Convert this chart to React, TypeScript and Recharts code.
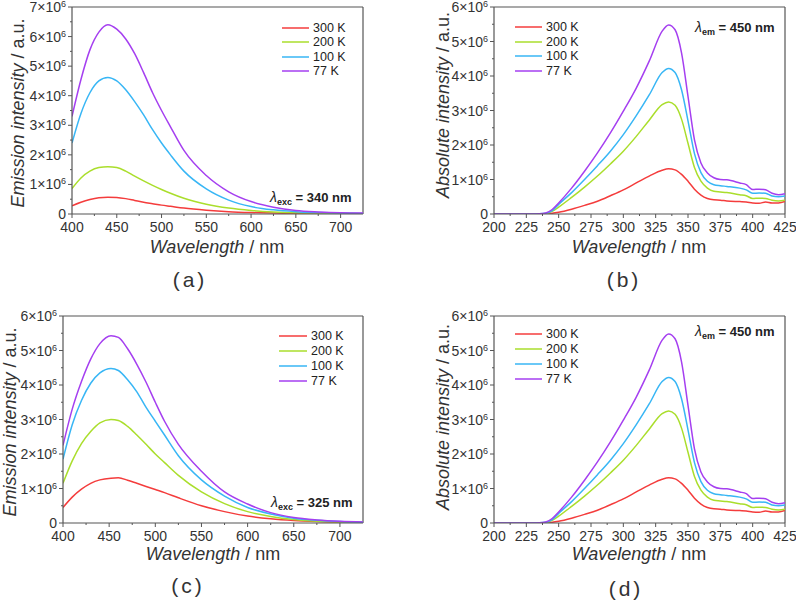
import React from 'react';
import { LineChart, Line, XAxis, YAxis, Legend, ReferenceLine, Customized } from 'recharts';

const FONT = '"Liberation Sans", Arial, Helvetica, sans-serif';
const AXIS = '#555555';
const TEXT = '#333333';

const seriesNames = ['300 K', '200 K', '100 K', '77 K'];
const seriesKeys = ['k300', 'k200', 'k100', 'k77'];
const seriesColors = ['#f43c3c', '#aade2c', '#38b6f5', '#a53ff0'];

// Panel (a): emission, λexc = 340 nm (values in units of 10^6)
const wlA = [400, 410, 420, 430, 440, 450, 460, 470, 480, 490, 500, 510, 525, 550, 575, 600, 625, 650, 675, 700, 725];
const a300 = [0.28, 0.4, 0.49, 0.55, 0.57, 0.56, 0.52, 0.46, 0.4, 0.35, 0.3, 0.26, 0.2, 0.13, 0.08, 0.05, 0.03, 0.02, 0.01, 0.01, 0.01];
const a200 = [0.86, 1.22, 1.45, 1.57, 1.6, 1.57, 1.45, 1.28, 1.12, 0.97, 0.83, 0.7, 0.53, 0.33, 0.2, 0.12, 0.07, 0.04, 0.03, 0.02, 0.01];
const a100 = [2.4, 3.4, 4.1, 4.5, 4.62, 4.5, 4.2, 3.8, 3.35, 2.85, 2.4, 2.0, 1.45, 0.85, 0.47, 0.25, 0.14, 0.08, 0.05, 0.03, 0.02];
const a77 = [3.3, 4.55, 5.55, 6.15, 6.4, 6.25, 5.92, 5.42, 4.78, 4.1, 3.5, 2.95, 2.15, 1.3, 0.75, 0.42, 0.23, 0.12, 0.07, 0.04, 0.03];

// Panel (b) and (d): excitation, λem = 450 nm
const wlB = [200, 210, 220, 230, 235, 240, 245, 250, 260, 270, 280, 290, 300, 310, 320, 330, 335, 340, 345, 350, 355, 360, 365, 370, 375, 380, 390, 395, 400, 405, 410, 415, 420, 425];
const b300 = [0, 0, 0, 0, 0, 0.005, 0.02, 0.05, 0.14, 0.25, 0.37, 0.53, 0.7, 0.9, 1.1, 1.27, 1.31, 1.28, 1.15, 0.95, 0.72, 0.55, 0.45, 0.41, 0.4, 0.38, 0.36, 0.35, 0.32, 0.31, 0.35, 0.32, 0.32, 0.36];
const b200 = [0, 0, 0, 0, 0.003, 0.01, 0.08, 0.2, 0.48, 0.78, 1.1, 1.45, 1.82, 2.25, 2.72, 3.17, 3.25, 3.15, 2.75, 2.05, 1.35, 0.95, 0.75, 0.66, 0.64, 0.62, 0.56, 0.53, 0.45, 0.46, 0.45, 0.4, 0.38, 0.4];
const b100 = [0, 0, 0, 0, 0.004, 0.02, 0.1, 0.28, 0.62, 1.0, 1.4, 1.82, 2.3, 2.85, 3.45, 4.1, 4.22, 4.1, 3.6, 2.7, 1.75, 1.2, 0.95, 0.85, 0.82, 0.8, 0.75, 0.7, 0.6, 0.61, 0.6, 0.52, 0.5, 0.52];
const b77 = [0, 0, 0, 0, 0.005, 0.03, 0.13, 0.32, 0.75, 1.24, 1.77, 2.35, 2.98, 3.65, 4.43, 5.3, 5.48, 5.34, 4.67, 3.41, 2.15, 1.48, 1.19, 1.05, 1.0, 0.99, 0.9, 0.85, 0.71, 0.72, 0.7, 0.6, 0.56, 0.59];

// Panel (c): emission, λexc = 325 nm
const wlC = [400, 410, 420, 430, 440, 452, 460, 470, 480, 490, 500, 510, 525, 550, 575, 600, 625, 650, 675, 700, 725];
const c300 = [0.45, 0.75, 0.98, 1.15, 1.25, 1.3, 1.31, 1.24, 1.15, 1.06, 0.97, 0.88, 0.73, 0.5, 0.33, 0.2, 0.12, 0.07, 0.04, 0.02, 0.01];
const c200 = [1.15, 1.8, 2.3, 2.65, 2.9, 3.0, 2.97, 2.8, 2.55, 2.28, 2.0, 1.75, 1.38, 0.9, 0.56, 0.33, 0.19, 0.1, 0.05, 0.03, 0.02];
const c100 = [1.85, 2.85, 3.55, 4.05, 4.35, 4.48, 4.42, 4.15, 3.8, 3.35, 2.95, 2.55, 1.95, 1.25, 0.78, 0.45, 0.26, 0.14, 0.08, 0.04, 0.02];
const c77 = [2.25, 3.3, 4.1, 4.75, 5.2, 5.43, 5.38, 5.05, 4.6, 4.08, 3.5, 2.95, 2.28, 1.5, 0.9, 0.55, 0.3, 0.16, 0.09, 0.05, 0.03];

// Tick values
const xMajorEm = [400, 450, 500, 550, 600, 650, 700];
const xMinorEm = [425, 475, 525, 575, 625, 675];
const xMajorEx = [200, 225, 250, 275, 300, 325, 350, 375, 400, 425];
const xMinorEx = [212.5, 237.5, 262.5, 287.5, 312.5, 337.5, 362.5, 387.5, 412.5];

const buildRows = (xs: number[], s: number[][]) =>
  xs.map((w, i) => ({ wl: w, k300: s[0][i], k200: s[1][i], k100: s[2][i], k77: s[3][i] }));

const XTick = (props: any) => {
  const { x, y, payload, major } = props;
  const isMajor = major.includes(payload.value);
  return (
    <g>
      <line x1={x} x2={x} y1={y} y2={y + (isMajor ? 4 : 2)} stroke={AXIS} strokeWidth={1} />
      {isMajor && (
        <text x={x} y={y + 18} textAnchor="middle" fill={TEXT} fontSize={14} fontFamily={FONT}>
          {payload.value}
        </text>
      )}
    </g>
  );
};

const YTick = (props: any) => {
  const { x, y, payload } = props;
  const v = payload.value;
  const isMajor = Number.isInteger(v);
  return (
    <g>
      <line x1={x} x2={x - (isMajor ? 4 : 2)} y1={y} y2={y} stroke={AXIS} strokeWidth={1} />
      {isMajor && (
        <text x={x - 6} y={y + 5} textAnchor="end" fill={TEXT} fontSize={14} fontFamily={FONT}>
          {v === 0 ? '0' : (
            <>
              {v}×10<tspan dy={-5} fontSize={9}>6</tspan>
            </>
          )}
        </text>
      )}
    </g>
  );
};

const makeLegend = (rowH: number, lineLen: number) => () => (
  <div style={{ fontFamily: FONT, fontSize: 12.5, color: '#222' }}>
    {seriesNames.map((name, i) => (
      <div key={name} style={{ display: 'flex', alignItems: 'center', height: rowH, whiteSpace: 'nowrap' }}>
        <svg width={lineLen} height={4} style={{ display: 'block', marginRight: 4 }}>
          <line x1={0} x2={lineLen} y1={2} y2={2} stroke={seriesColors[i]} strokeWidth={1.5} />
        </svg>
        <span>{name}</span>
      </div>
    ))}
  </div>
);

const Annotations = (props: any) => {
  const { cfg } = props;
  const L = cfg.left;
  const T = cfg.top;
  return (
    <g fontFamily={FONT}>
      <text
        x={cfg.yTitle[0] - L}
        y={cfg.yTitle[1] - T}
        transform={`rotate(-90, ${cfg.yTitle[0] - L}, ${cfg.yTitle[1] - T})`}
        textAnchor="middle"
        fontSize={18}
        fill={TEXT}
      >
        <tspan fontStyle="italic">{cfg.yTitleItalic}</tspan>
        <tspan> / a.u.</tspan>
      </text>
      <text x={cfg.xTitle[0] - L} y={cfg.xTitle[1] - T} textAnchor="middle" fontSize={18} fill={TEXT}>
        <tspan fontStyle="italic">Wavelength</tspan>
        <tspan> / nm</tspan>
      </text>
      <text x={cfg.lambda[0] - L} y={cfg.lambda[1] - T} fontSize={13} fontWeight="bold" fill="#222">
        <tspan fontStyle="italic" fontWeight="normal" fontSize={14}>λ</tspan>
        <tspan fontSize={9} dy={3}>{cfg.lambdaSub}</tspan>
        <tspan dy={-3}>{` = ${cfg.lambdaVal}`}</tspan>
      </text>
      <text x={cfg.tag[0] - L} y={cfg.tag[1] - T} textAnchor="middle" fontSize={21} fill={TEXT} letterSpacing={3}>
        {cfg.tagText}
      </text>
    </g>
  );
};

const Panel = ({ cfg }: { cfg: any }) => {
  const xTicks = [...cfg.xMajor, ...cfg.xMinor].sort((a: number, b: number) => a - b);
  const yTicks: number[] = [];
  for (let i = 0; i <= cfg.yMax * 2; i++) yTicks.push(i / 2);
  return (
    <div style={{ position: 'absolute', left: cfg.left, top: cfg.top }}>
      <LineChart width={cfg.width} height={cfg.height} data={cfg.rows} margin={cfg.margin}>
        <XAxis
          dataKey="wl"
          type="number"
          domain={cfg.xDomain}
          ticks={xTicks}
          interval={0}
          allowDataOverflow
          height={30}
          tickSize={0}
          tickMargin={0}
          tickLine={false}
          axisLine={{ stroke: AXIS, strokeWidth: 1.2 }}
          tick={<XTick major={cfg.xMajor} />}
        />
        <YAxis
          type="number"
          domain={[0, cfg.yMax]}
          ticks={yTicks}
          interval={0}
          allowDataOverflow
          width={cfg.yAxisWidth}
          tickSize={0}
          tickMargin={0}
          tickLine={false}
          axisLine={{ stroke: AXIS, strokeWidth: 1.2 }}
          tick={<YTick />}
        />
        <ReferenceLine y={cfg.yMax} stroke={AXIS} strokeWidth={1.2} />
        <ReferenceLine x={cfg.xDomain[1]} stroke={AXIS} strokeWidth={1.2} />
        {seriesKeys.map((k, i) => (
          <Line
            key={k}
            dataKey={k}
            name={seriesNames[i]}
            stroke={seriesColors[i]}
            strokeWidth={1.5}
            dot={false}
            type="monotone"
            isAnimationActive={false}
          />
        ))}
        <Legend
          layout="vertical"
          align="center"
          verticalAlign="middle"
          wrapperStyle={{
            left: cfg.legend[0] - cfg.left,
            top: cfg.legend[1] - cfg.top - cfg.legend[2] / 2,
            width: 'auto',
            height: 'auto',
          }}
          content={makeLegend(cfg.legend[2], cfg.legend[3])}
        />
        <Customized component={<Annotations cfg={cfg} />} />
      </LineChart>
    </div>
  );
};

const panels = [
  {
    left: 0, top: 0, width: 398, height: 300,
    margin: { top: 7, right: 35, bottom: 56, left: 0 }, yAxisWidth: 72,
    xDomain: [400, 725], xMajor: xMajorEm, xMinor: xMinorEm, yMax: 7,
    rows: buildRows(wlA, [a300, a200, a100, a77]),
    yTitle: [24, 113], yTitleItalic: 'Emission intensity',
    xTitle: [217, 253], lambda: [270, 202], lambdaSub: 'exc', lambdaVal: '340 nm',
    tag: [190, 287], tagText: '(a)', legend: [282, 28, 14.4, 27],
  },
  {
    left: 398, top: 0, width: 398, height: 300,
    margin: { top: 7, right: 11, bottom: 56, left: 0 }, yAxisWidth: 96,
    xDomain: [200, 425], xMajor: xMajorEx, xMinor: xMinorEx, yMax: 6,
    rows: buildRows(wlB, [b300, b200, b100, b77]),
    yTitle: [449, 105], yTitleItalic: 'Absolute intensity',
    xTitle: [639, 253], lambda: [695, 32], lambdaSub: 'em', lambdaVal: '450 nm',
    tag: [624, 287], tagText: '(b)', legend: [515, 27, 14.6, 27],
  },
  {
    left: 0, top: 300, width: 398, height: 304,
    margin: { top: 16, right: 35, bottom: 51, left: 0 }, yAxisWidth: 63,
    xDomain: [400, 725], xMajor: xMajorEm, xMinor: xMinorEm, yMax: 6,
    rows: buildRows(wlC, [c300, c200, c100, c77]),
    yTitle: [16, 422], yTitleItalic: 'Emission intensity',
    xTitle: [213, 560], lambda: [271, 507], lambdaSub: 'exc', lambdaVal: '325 nm',
    tag: [188, 593], tagText: '(c)', legend: [279, 336, 15, 28],
  },
  {
    left: 398, top: 300, width: 398, height: 304,
    margin: { top: 16, right: 11, bottom: 51, left: 0 }, yAxisWidth: 96,
    xDomain: [200, 425], xMajor: xMajorEx, xMinor: xMinorEx, yMax: 6,
    rows: buildRows(wlB, [b300, b200, b100, b77]),
    yTitle: [449, 417], yTitleItalic: 'Absolute intensity',
    xTitle: [639, 560], lambda: [695, 336], lambdaSub: 'em', lambdaVal: '450 nm',
    tag: [626, 596], tagText: '(d)', legend: [515, 334, 15, 27],
  },
];

export default function App() {
  return (
    <div style={{ position: 'absolute', left: 0, top: 0, width: 796, height: 604, background: '#fff', overflow: 'hidden' }}>
      {panels.map((p, i) => (
        <Panel key={i} cfg={p} />
      ))}
    </div>
  );
}
